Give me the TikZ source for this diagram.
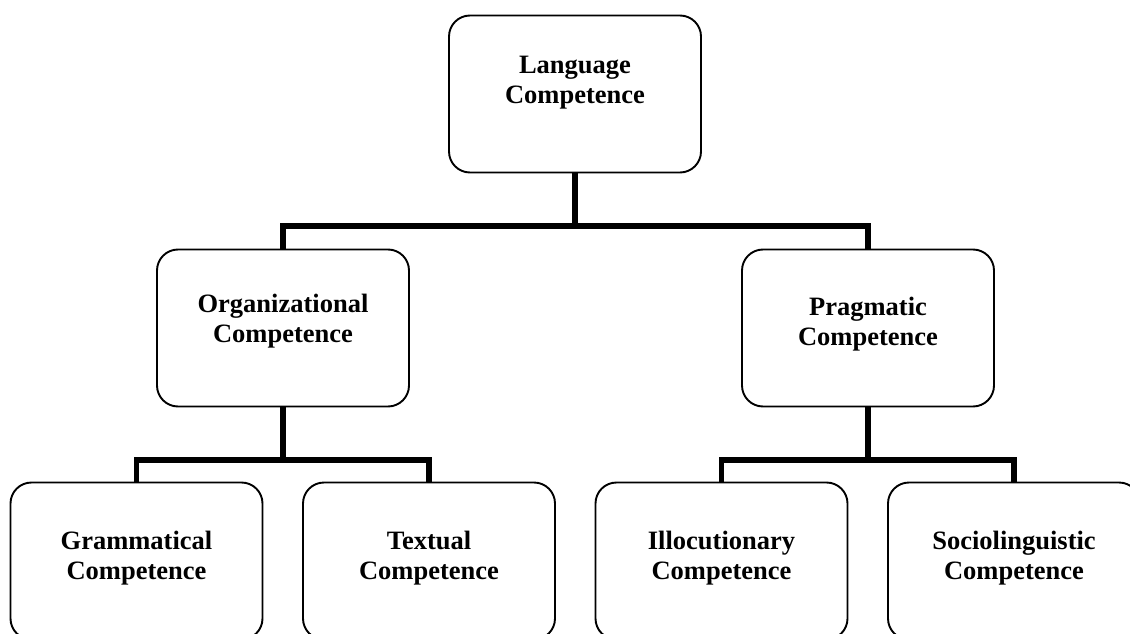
\documentclass[tikz,border=0pt]{standalone}
\usepackage{fontspec}
\setmainfont{Liberation Serif}
\begin{document}
\begin{tikzpicture}[x=1pt,y=-1pt,
  cbox/.style={draw=black, line width=1.9pt, rounded corners=21pt, fill=white,
    minimum width=252pt, minimum height=157pt, inner sep=0pt, outer sep=0pt},
  lbl/.style={font=\fontsize{26.5}{30}\selectfont\bfseries, align=center, inner sep=0pt},
  conn/.style={line width=5.5pt, line join=miter, line cap=butt}]
\clip (0,0) rectangle (1130,634);
\fill[white] (0,0) rectangle (1130,634);
% nodes
\node[cbox, label={[lbl, yshift=11pt]center:Language\\Competence}] (lang) at (575,94) {};
\node[cbox, label={[lbl, yshift=7pt]center:Organizational\\Competence}] (org) at (283,328) {};
\node[cbox, label={[lbl, yshift=4pt]center:Pragmatic\\Competence}] (prag) at (868,328) {};
\node[cbox, label={[lbl, yshift=3pt]center:Grammatical\\Competence}] (gram) at (136.5,561) {};
\node[cbox, label={[lbl, yshift=3pt]center:Textual\\Competence}] (text) at (429,561) {};
\node[cbox, label={[lbl, yshift=3pt]center:Illocutionary\\Competence}] (illoc) at (721.5,561) {};
\node[cbox, label={[lbl, yshift=3pt]center:Sociolinguistic\\Competence}] (socio) at (1014,561) {};
% junctions
\coordinate (j0) at (575,226);
\coordinate (j1) at (283,460);
\coordinate (j2) at (868,460);
% connectors
\draw[conn] (lang.south) -- (j0);
\draw[conn] (org.north) |- (j0) -| (prag.north);
\draw[conn] (org.south) -- (j1);
\draw[conn] (gram.north) |- (j1) -| (text.north);
\draw[conn] (prag.south) -- (j2);
\draw[conn] (illoc.north) |- (j2) -| (socio.north);
\end{tikzpicture}
\end{document}
